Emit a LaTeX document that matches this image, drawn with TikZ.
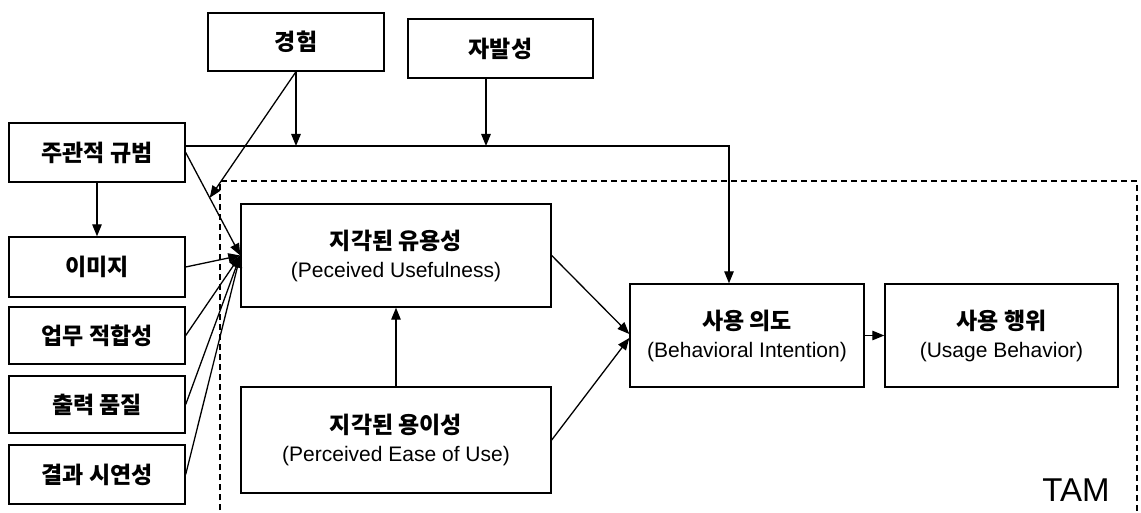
\documentclass[tikz,border=0pt]{standalone}
\usepackage{fontspec}
\setmainfont{Liberation Sans}
\newfontfamily\kr{Noto Sans CJK KR}
\newcommand\krt[1]{{\kr\bfseries\fontsize{23}{28}\selectfont #1}}
\usetikzlibrary{arrows.meta,calc}
\begin{document}
\begin{tikzpicture}[x=1pt,y=-1pt,
  box/.style={draw, line width=1.4pt, inner sep=0pt, align=center,
    font=\fontsize{21}{28}\selectfont},
  arr/.style={line width=1.3pt, -{Triangle[length=12pt,width=9.5pt]}},
  tamframe/.style={line width=1.3pt, dash pattern=on 6pt off 4pt}]
\useasboundingbox[fill=white] (0,0) rectangle (1141,513);
% top boxes
\node[box, minimum width=176pt, minimum height=58pt] (exp) at (296,42) {\krt{경험}};
\node[box, minimum width=185pt, minimum height=59pt] (vol) at (500.5,48.5) {\krt{자발성}};
% left boxes
\node[box, minimum width=176pt, minimum height=59pt] (sn)  at (97,152.5) {\krt{주관적 규범}};
\node[box, minimum width=176pt, minimum height=60pt] (img) at (97,267) {\krt{이미지}};
\node[box, minimum width=176pt, minimum height=57pt] (job) at (97,335.5) {\krt{업무 적합성}};
\node[box, minimum width=176pt, minimum height=57pt] (out) at (97,404.5) {\krt{출력 품질}};
\node[box, minimum width=176pt, minimum height=59pt] (res) at (97,474.5) {\krt{결과 시연성}};
% TAM boxes
\node[box, minimum width=310pt, minimum height=103pt] (use) at (396,255.5)
  {\krt{지각된 유용성}\\(Peceived Usefulness)};
\node[box, minimum width=310pt, minimum height=106pt] (ease) at (396,440)
  {\krt{지각된 용이성}\\(Perceived Ease of Use)};
\node[box, minimum width=234pt, minimum height=103pt] (int) at (747,335.5)
  {\krt{사용 의도}\\(Behavioral Intention)};
\node[box, minimum width=233pt, minimum height=103pt] (usage) at (1001.5,335.5)
  {\krt{사용 행위}\\(Usage Behavior)};
\node[font=\fontsize{33}{33}\selectfont, inner sep=0pt] (tam) at (1076,490) {TAM};
% dashed TAM frame
\draw[tamframe] (220,520) -- (220,181) -- (1137,181) -- (1137,520);
% connectors
\coordinate (hl) at ([yshift=6.5pt]sn.east);
\draw[arr] (sn.south) -- (img.north);
\draw[arr] (hl) -| ([xshift=-18pt]int.north);
\draw[arr] (exp.south) -- (exp.south |- hl);
\draw[arr] ([xshift=-14.5pt]vol.south) -- ([xshift=-14.5pt]vol.south |- hl);
\coordinate (mx) at ($(sn.east)!0.44!(use.west)$);
\draw[arr] (sn.east) -- (use.west);
\draw[arr] (exp.south) -- (mx);
\draw[arr] (img.east) -- (use.west);
\draw[arr] (job.east) -- (use.west);
\draw[arr] (out.east) -- (use.west);
\draw[arr] (res.east) -- (use.west);
\draw[arr] (ease.north) -- (use.south);
\draw[arr] (use.east) -- ([yshift=1.5pt]int.west);
\draw[arr] (ease.east) -- ([yshift=-2.5pt]int.west);
\draw[arr] (int.east) -- (usage.west);
\end{tikzpicture}
\end{document}
